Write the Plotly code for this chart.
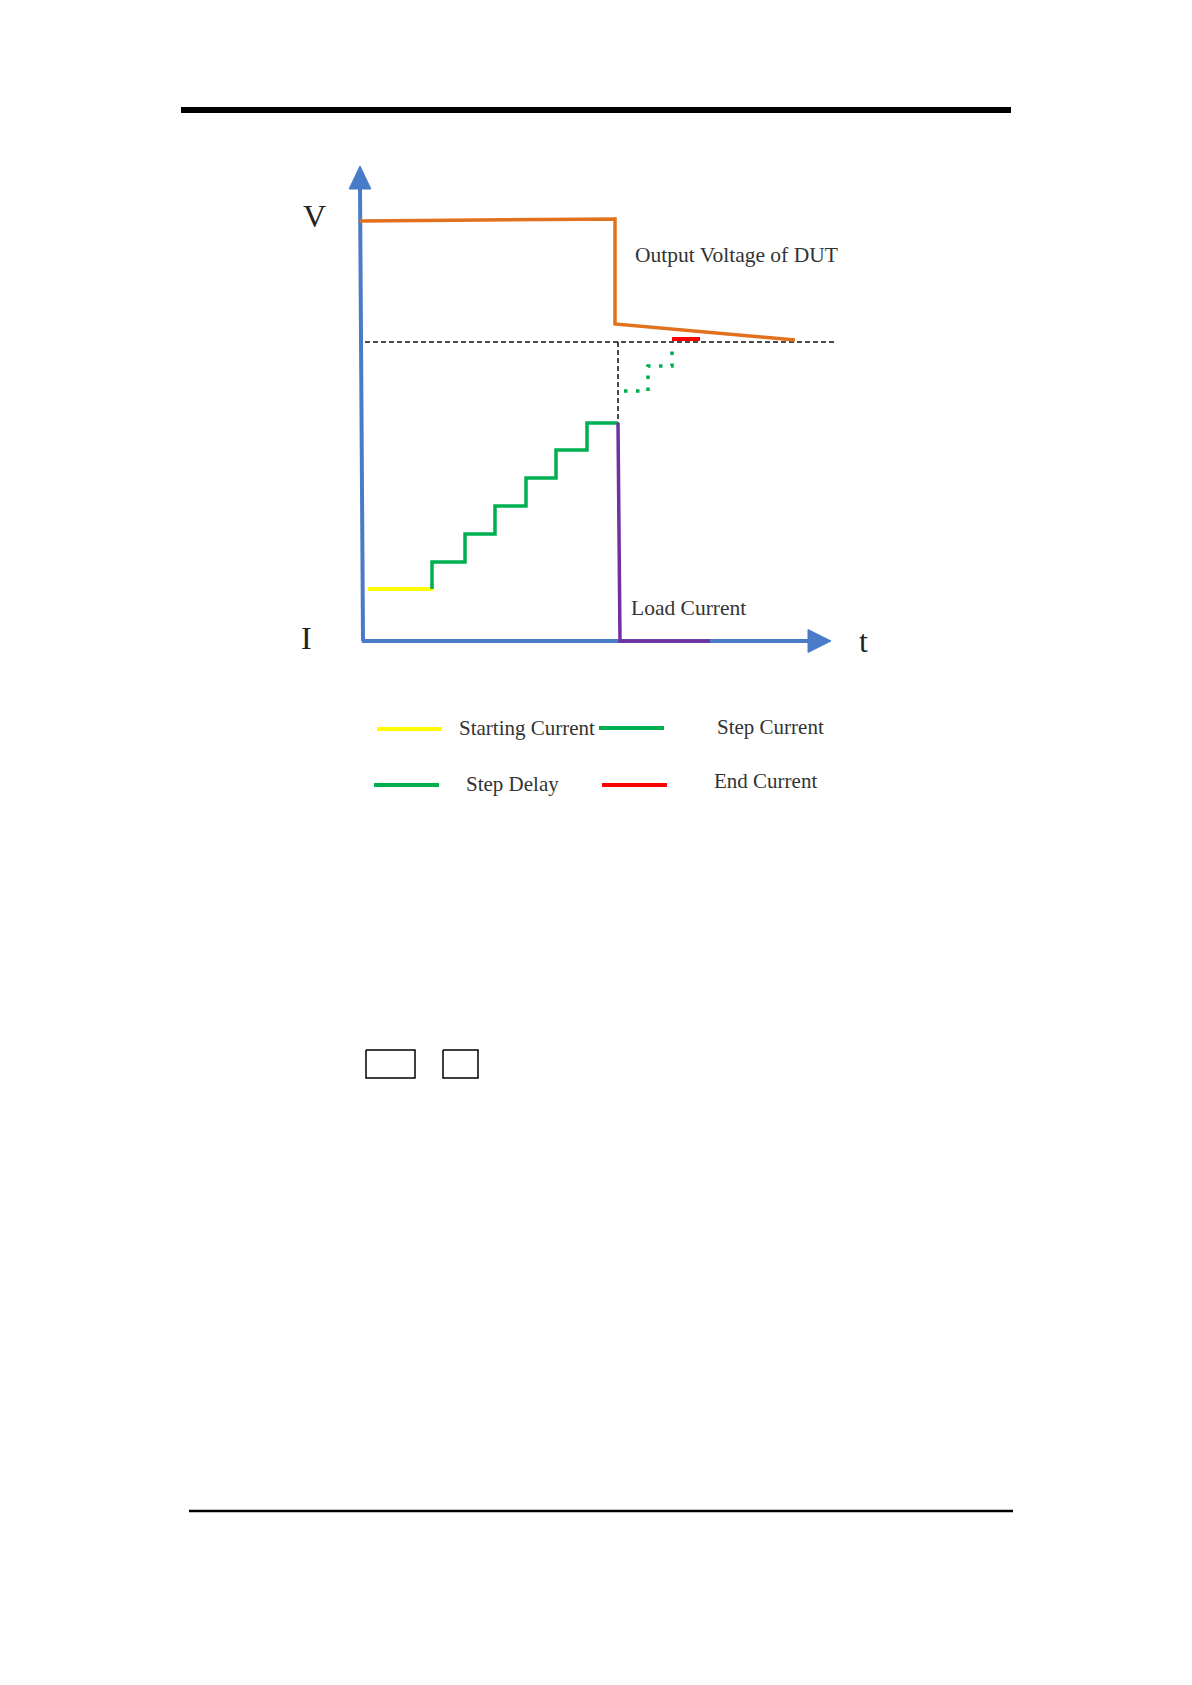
import plotly.graph_objects as go

W, H = 1192, 1685
PAGE_MARGIN = 8  # default body margin of the html page

# ---- page rules ----
header_x = [181, 1011]
header_y = [110, 110]
footer_x = [189, 1013]
footer_y = [1511, 1511]

# ---- coordinate axes of the diagram ----
vaxis_x = [363, 360]
vaxis_y = [641, 186]
vhead_x = [349, 360, 371, 349]
vhead_y = [189, 166, 189, 189]
taxis_x = [362, 810]
taxis_y = [641, 641]
thead_x = [808, 831, 808, 808]
thead_y = [629.5, 641, 652.5, 629.5]

# ---- output voltage of DUT (orange) ----
volt_x = [360, 615, 615, 795]
volt_y = [221, 219, 324, 340]

# ---- starting current (yellow) ----
start_x = [368, 433]
start_y = [589, 589]

# ---- step current staircase (green) ----
step_x = [432, 432, 465, 465, 495, 495, 526, 526, 556, 556, 587, 587, 618]
step_y = [589, 562, 562, 534, 534, 506, 506, 478, 478, 450, 450, 423, 423]

# ---- continuation of steps (dotted green) ----
dot_x = [624, 648, 648, 672, 672]
dot_y = [391, 391, 366, 366, 344]

# ---- end current (red) ----
end_x = [672, 700]
end_y = [339, 339]

# ---- load current (purple) ----
load_x = [618, 620, 710]
load_y = [423, 641, 641]

# ---- dashed reference lines ----
refh_x = [365, 834]
refh_y = [342, 342]
refv_x = [618, 618]
refv_y = [342, 423]

# ---- legend samples ----
leg_start_x = [377, 442]; leg_start_y = [729, 729]
leg_step_x = [599, 664];  leg_step_y = [728, 728]
leg_delay_x = [374, 439]; leg_delay_y = [785, 785]
leg_end_x = [602, 667];   leg_end_y = [785, 785]

# ---- boxes ----
box1_x = [366, 415, 415, 366, 366]
box1_y = [1050, 1050, 1078, 1078, 1050]
box2_x = [443, 478, 478, 443, 443]
box2_y = [1050, 1050, 1078, 1078, 1050]

BLUE = "#4A7BC8"
ORANGE = "#E2711D"
GREEN = "#00B050"
YELLOW = "#FFFF00"
PURPLE = "#7030A0"
RED = "#FF0000"

fig = go.Figure()

def line(x, y, color, width, dash="solid"):
    fig.add_trace(go.Scatter(x=x, y=y, mode="lines",
                             line=dict(color=color, width=width, dash=dash),
                             hoverinfo="skip", showlegend=False))

def tri(x, y, color):
    fig.add_trace(go.Scatter(x=x, y=y, mode="lines", fill="toself",
                             fillcolor=color, line=dict(color=color, width=1),
                             hoverinfo="skip", showlegend=False))

line(header_x, header_y, "#000000", 6)
line(footer_x, footer_y, "#000000", 2.5)

line(refh_x, refh_y, "#111111", 1.5, "5px,3px")
line(refv_x, refv_y, "#111111", 1.5, "5px,3px")

line(vaxis_x, vaxis_y, BLUE, 4)
tri(vhead_x, vhead_y, BLUE)
line(taxis_x, taxis_y, BLUE, 4)
tri(thead_x, thead_y, BLUE)

line(volt_x, volt_y, ORANGE, 3.5)
line(start_x, start_y, YELLOW, 4)
line(step_x, step_y, GREEN, 3.5)
line(dot_x, dot_y, GREEN, 3.5, "3.5px,8.5px")
line(end_x, end_y, RED, 4)
line(load_x, load_y, PURPLE, 3.5)

line(leg_start_x, leg_start_y, YELLOW, 4)
line(leg_step_x, leg_step_y, GREEN, 4)
line(leg_delay_x, leg_delay_y, GREEN, 4)
line(leg_end_x, leg_end_y, RED, 4)

line(box1_x, box1_y, "#000000", 1.5)
line(box2_x, box2_y, "#000000", 1.5)

SERIF = "Liberation Serif, Times New Roman, serif"
TXT = "#333333"

labels = [
    ("V", 314, 216, "center", 32, "#222222"),
    ("I", 306, 638, "center", 32, "#222222"),
    ("t", 863, 641, "center", 32, "#222222"),
    ("Output Voltage of DUT", 633, 255, "left", 21.5, TXT),
    ("Load Current", 629, 608, "left", 21.5, TXT),
    ("Starting Current", 457, 728, "left", 21, TXT),
    ("Step Current", 715, 727, "left", 21, TXT),
    ("Step Delay", 464, 784, "left", 21, TXT),
    ("End Current", 712, 781, "left", 21, TXT),
]
for text, x, y, anchor, size, col in labels:
    fig.add_annotation(x=x, y=y, text=text, showarrow=False,
                       xanchor=anchor, yanchor="middle",
                       font=dict(family=SERIF, size=size, color=col))

m = PAGE_MARGIN
fig.update_layout(
    width=W - 2 * m, height=H - 2 * m,
    margin=dict(l=0, r=0, t=0, b=0),
    paper_bgcolor="white", plot_bgcolor="white",
    xaxis=dict(range=[m, W - m], visible=False, fixedrange=True),
    yaxis=dict(range=[H - m, m], visible=False, fixedrange=True),
    showlegend=False,
)

fig.write_html("out.html", config={"displayModeBar": False})
